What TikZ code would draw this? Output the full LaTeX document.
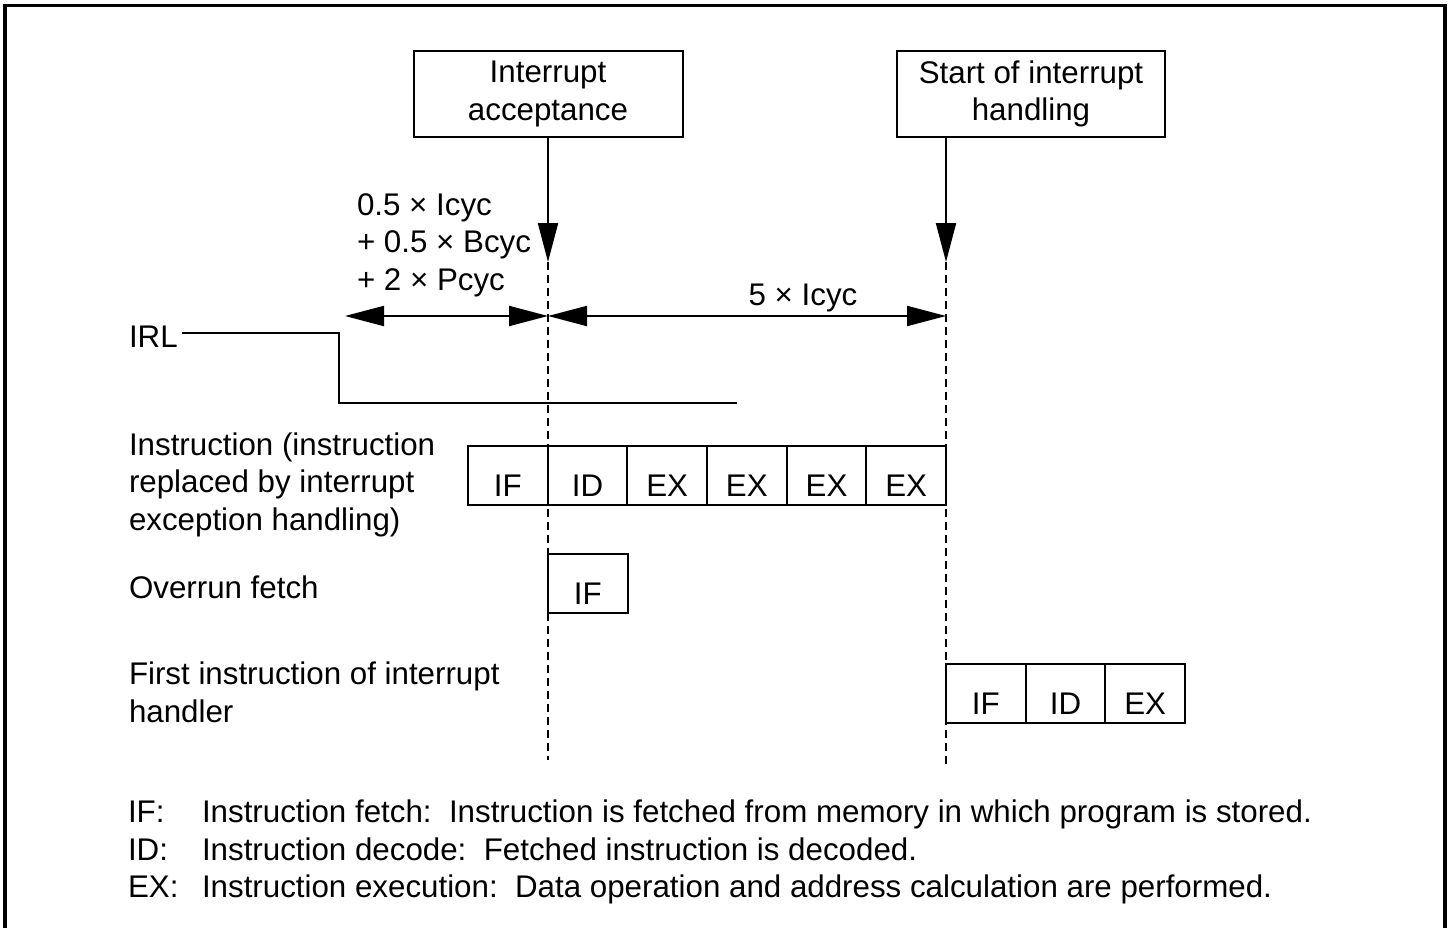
\documentclass[tikz,border=0pt]{standalone}
\usepackage{fontspec}
\setmainfont{Liberation Sans}
\usetikzlibrary{arrows.meta}
\begin{document}
\begin{tikzpicture}[x=1pt,y=-1pt, line width=2pt,
  every node/.style={font=\fontsize{31.3}{37.5}\selectfont, inner sep=0pt},
  lbl/.style={anchor=base west, align=left},
  topbox/.style={draw, minimum height=86pt, align=center},
  cell/.style={draw, outer sep=0pt, minimum width=79.67pt, text height=50pt, text depth=9pt, anchor=north west},
  tip/.style={-{Triangle[length=39pt,width=20pt]}},
  dtip/.style={{Triangle[length=39pt,width=20pt]}-{Triangle[length=39pt,width=20pt]}},
  guide/.style={line width=1.5pt, dash pattern=on 8pt off 5pt}]
\useasboundingbox (0,0) rectangle (1450,928);
\draw[line width=3.5pt] (5,932) -- (5,5.5) -- (1445,5.5) -- (1445,932);

% top boxes
\node[topbox, minimum width=269pt] (box1) at (548,94) {Interrupt\\acceptance};
\node[topbox, minimum width=268pt] (box2) at (1031,94) {Start of interrupt\\handling};

\coordinate (ta) at (548,262);
\coordinate (tb) at (946,262);
\coordinate (ea) at (548,760);
\coordinate (eb) at (946,765);
\draw[tip] (box1.south -| ta) -- (ta);
\draw[tip] (box2.south -| tb) -- (tb);
\draw[guide] (ta) -- (ea);
\draw[guide] (tb) -- (eb);

% timing annotations (base = last line)
\node[lbl] (cyc1) at (356,290) {0.5 × Icyc\\+ 0.5 × Bcyc\\+ 2 × Pcyc};
\node[anchor=base] (cyc2) at (803,305) {5 × Icyc};
\coordinate (hl) at (345,316);
\coordinate (hm) at (548,316);
\coordinate (hr) at (946,316);
\draw[dtip] (hl) -- (hm);
\draw[dtip] (hm) -- (hr);

% IRL
\node[lbl] (irl) at (128,347) {IRL};
\coordinate (irlY) at (0,333);
\draw (irl.east |- irlY) ++(3,0) -- (339,333) -- (339,403) -- (737,403);

% row labels (base = last line)
\node[lbl] (l1) at (128,530) {Instruction (instruction\\replaced by interrupt\\exception handling)};
\node[lbl] (l2) at (128,598) {Overrun fetch};
\node[lbl] (l3) at (128,722) {First instruction of interrupt\\handler};

% row 1 cells
\node[cell] (a1) at (468,446) {IF};
\node[cell] (a2) at (a1.north east) {ID};
\node[cell] (a3) at (a2.north east) {EX};
\node[cell] (a4) at (a3.north east) {EX};
\node[cell] (a5) at (a4.north east) {EX};
\node[cell] (a6) at (a5.north east) {EX};

% row 2 cell
\node[cell] (b1) at (548,554) {IF};

% row 3 cells
\node[cell] (c1) at (946,664) {IF};
\node[cell] (c2) at (c1.north east) {ID};
\node[cell] (c3) at (c2.north east) {EX};

% legend
\node[lbl] (k1) at (127,822) {IF:};
\node[lbl] (d1) at (201,822) {Instruction fetch:\ \ Instruction is fetched from memory in which program is stored.};
\node[lbl] (k2) at (127,860) {ID:};
\node[lbl] (d2) at (201,860) {Instruction decode:\ \ Fetched instruction is decoded.};
\node[lbl] (k3) at (127,897) {EX:};
\node[lbl] (d3) at (201,897) {Instruction execution:\ \ Data operation and address calculation are performed.};
\end{tikzpicture}
\end{document}
